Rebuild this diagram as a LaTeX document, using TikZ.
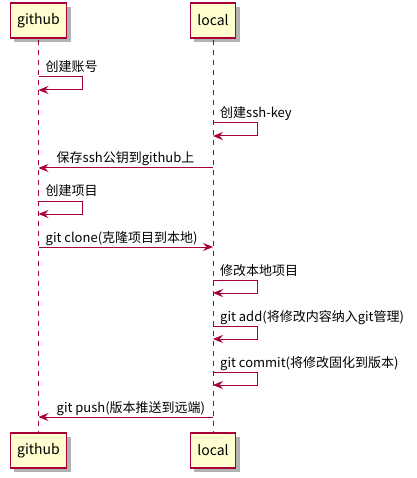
\documentclass[tikz,border=0pt]{standalone}
\usepackage{fontspec}
\setmainfont{Noto Sans CJK SC}
\usetikzlibrary{calc,arrows.meta,shadows}
\definecolor{umlred}{HTML}{A80036}
\definecolor{umlfill}{HTML}{FEFECE}
\begin{document}
\begin{tikzpicture}[x=1pt,y=-1pt,
    actor/.style={draw=umlred,fill=umlfill,line width=1.3pt,minimum height=35pt,inner xsep=7pt,
      font=\fontsize{14}{16}\selectfont,
      drop shadow={shadow xshift=4pt,shadow yshift=-4pt,opacity=0.3,fill=black}},
    msg/.style={draw=umlred,line width=1pt,-{Stealth[length=10pt,width=8pt,inset=3.5pt]}},
    lbl/.style={anchor=base west,inner sep=0pt,font=\fontsize{13}{15}\selectfont}]
  \useasboundingbox (0,0) rectangle (416,478);
  % lifelines first, boxes on top
  \path (38.5,20.5) coordinate (ghc) (213,20.5) coordinate (lcc);
  \draw[umlred,line width=0.9pt,dash pattern=on 5pt off 5pt] (ghc) -- (ghc |- 0,450.5) (lcc) -- (lcc |- 0,450.5);
  \node[actor] (ghtop) at (ghc) {github};
  \node[actor] (lctop) at (lcc) {local};
  \node[actor] (ghbot) at (ghc |- 0,450.5) {github};
  \node[actor] (lcbot) at (lcc |- 0,450.5) {local};
  % self messages
  \foreach \P/\y/\T in {ghtop/77/创建账号, lctop/123/创建ssh-key, ghtop/201/创建项目,
      lctop/280/修改本地项目, lctop/326/git add(将修改内容纳入git管理),
      lctop/372/git commit(将修改固化到版本)}{
    \coordinate (s) at (\P.south |- 0,\y);
    \draw[msg] (s) -- ++(44,0) -- ++(0,13) -- ($(s)+(0,13)$);
    \node[lbl] at ($(s)+(7,-5)$) {\T};
  }
  % messages between the two
  \coordinate (m1) at (lctop.south |- 0,168);
  \draw[msg] (m1) -- (ghtop.south |- m1);
  \node[lbl] at ($(ghtop.south |- m1)+(18,-5)$) {保存ssh公钥到github上};
  \coordinate (m2) at (ghtop.south |- 0,247);
  \draw[msg] (m2) -- (lctop.south |- m2);
  \node[lbl] at ($(m2)+(7,-5)$) {git clone(克隆项目到本地)};
  \coordinate (m3) at (lctop.south |- 0,417);
  \draw[msg] (m3) -- (ghtop.south |- m3);
  \node[lbl] at ($(ghtop.south |- m3)+(18,-5)$) {git push(版本推送到远端)};
\end{tikzpicture}
\end{document}
